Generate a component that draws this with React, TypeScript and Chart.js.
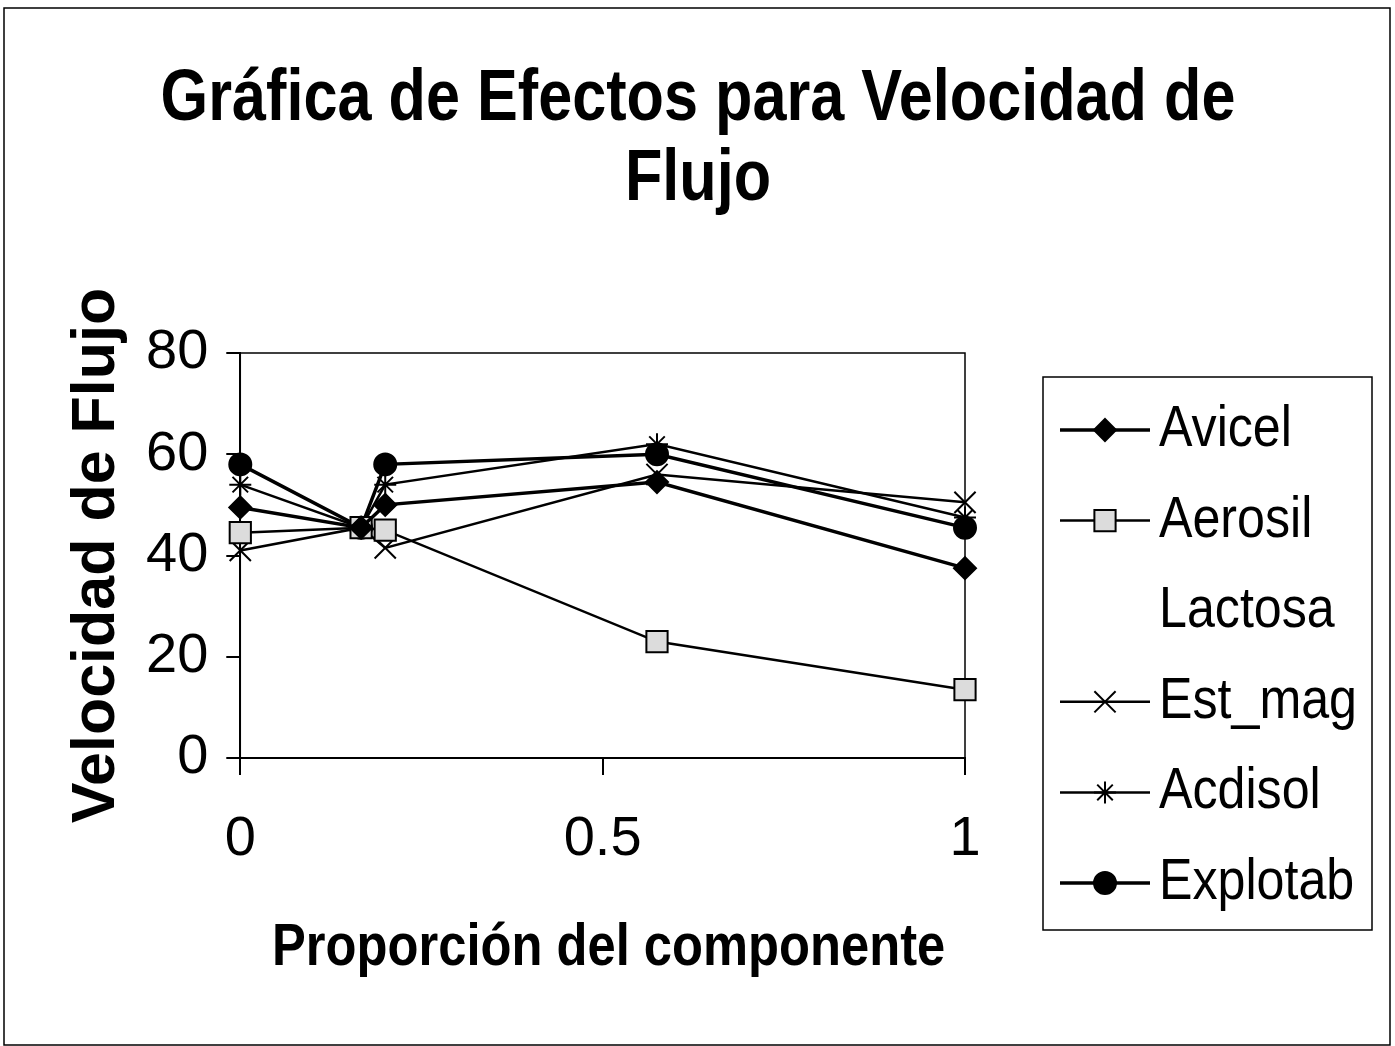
import React, { useEffect, useRef } from 'react';
import { Chart, registerables } from 'chart.js';

Chart.register(...registerables);

// ---------- data ----------
const TITLE_LINES = ['Gráfica de Efectos para Velocidad de', 'Flujo'];
const X_TITLE = 'Proporción del componente';
const Y_TITLE = 'Velocidad de Flujo';

const X_VALUES = [0, 0.1667, 0.2, 0.575, 1];
const AVICEL = [49.5, 45.5, 50, 54.5, 37.5];
const AEROSIL = [44.5, 45.5, 45, 23, 13.5];
const LACTOSA: (number | null)[] = [null, null, null, null, null];
const EST_MAG = [41, 45.5, 41.5, 56, 50.5];
const ACDISOL = [54, 45.5, 54, 62, 47.5];
const EXPLOTAB = [58, 45.5, 58, 60, 45.5];

const X_MIN = 0;
const X_MAX = 1;
const X_STEP = 0.5;
const Y_MIN = 0;
const Y_MAX = 80;
const Y_STEP = 20;

// ---------- styles ----------
const FONT = "'Liberation Sans', Arial, sans-serif";

type Series = {
  label: string;
  values: (number | null)[];
  marker: string;
  radius: number;
  fill: string;
  lineWidth: number;
  visible: boolean;
};

const SERIES: Series[] = [
  { label: 'Avicel', values: AVICEL, marker: 'rectRot', radius: 11, fill: '#000', lineWidth: 3.5, visible: true },
  { label: 'Aerosil', values: AEROSIL, marker: 'rect', radius: 15, fill: '#dcdcdc', lineWidth: 2.5, visible: true },
  { label: 'Lactosa', values: LACTOSA, marker: 'circle', radius: 0, fill: 'transparent', lineWidth: 0, visible: false },
  { label: 'Est_mag', values: EST_MAG, marker: 'crossRot', radius: 15, fill: '#000', lineWidth: 2.5, visible: true },
  { label: 'Acdisol', values: ACDISOL, marker: 'star', radius: 11, fill: '#000', lineWidth: 2.5, visible: true },
  { label: 'Explotab', values: EXPLOTAB, marker: 'circle', radius: 11, fill: '#000', lineWidth: 3.5, visible: true },
];

function drawMarker(ctx: CanvasRenderingContext2D, style: string, x: number, y: number, r: number, fill: string) {
  if (r <= 0) return;
  ctx.beginPath();
  let closed = true;
  const s = r * Math.SQRT1_2;
  switch (style) {
    case 'circle':
      ctx.arc(x, y, r, 0, Math.PI * 2);
      break;
    case 'rect':
      ctx.rect(x - s, y - s, 2 * s, 2 * s);
      break;
    case 'rectRot':
      ctx.moveTo(x, y - r);
      ctx.lineTo(x + r, y);
      ctx.lineTo(x, y + r);
      ctx.lineTo(x - r, y);
      ctx.closePath();
      break;
    case 'crossRot':
      closed = false;
      ctx.moveTo(x - s, y - s);
      ctx.lineTo(x + s, y + s);
      ctx.moveTo(x - s, y + s);
      ctx.lineTo(x + s, y - s);
      break;
    case 'star':
      closed = false;
      ctx.moveTo(x, y - r);
      ctx.lineTo(x, y + r);
      ctx.moveTo(x - r, y);
      ctx.lineTo(x + r, y);
      ctx.moveTo(x - s, y - s);
      ctx.lineTo(x + s, y + s);
      ctx.moveTo(x - s, y + s);
      ctx.lineTo(x + s, y - s);
      break;
  }
  if (closed) {
    ctx.fillStyle = fill;
    ctx.fill();
  }
  ctx.stroke();
}

// text compressed horizontally (the original lettering is condensed)
function squeezedText(
  ctx: CanvasRenderingContext2D,
  text: string,
  x: number,
  y: number,
  k: number,
  align: CanvasTextAlign
) {
  ctx.save();
  ctx.translate(x, y);
  ctx.scale(k, 1);
  ctx.textAlign = align;
  ctx.textBaseline = 'middle';
  ctx.fillText(text, 0, 0);
  ctx.restore();
}

const framePlugin = {
  id: 'frame',
  beforeDraw(chart: any) {
    const { ctx } = chart;
    ctx.save();
    ctx.fillStyle = '#fff';
    ctx.fillRect(0, 0, chart.width, chart.height);
    ctx.restore();
  },
  beforeDatasetsDraw(chart: any) {
    const { ctx, chartArea } = chart;
    ctx.save();
    ctx.strokeStyle = '#000';
    ctx.lineWidth = 1.5;
    ctx.strokeRect(chartArea.left, chartArea.top, chartArea.right - chartArea.left, chartArea.bottom - chartArea.top);
    ctx.restore();
  },
  afterDraw(chart: any) {
    const { ctx, chartArea } = chart;
    ctx.save();
    ctx.fillStyle = '#000';
    ctx.strokeStyle = '#000';

    // outer frame
    ctx.lineWidth = 1.5;
    ctx.strokeRect(4, 8, 1386, 1037);

    // chart title
    ctx.font = `bold 72px ${FONT}`;
    TITLE_LINES.forEach((line, i) => {
      squeezedText(ctx, line, 698, 100 + i * 80, 0.85, 'center');
    });

    // x axis title
    ctx.font = `bold 60px ${FONT}`;
    squeezedText(ctx, X_TITLE, (chartArea.left + chartArea.right) / 2 + 6, 948, 0.845, 'center');

    // legend box
    const left = 1043;
    const top = 377;
    const right = 1372;
    const bottom = 930;
    ctx.lineWidth = 1.5;
    ctx.strokeRect(left, top, right - left, bottom - top);

    ctx.font = `58px ${FONT}`;
    SERIES.forEach((s, i) => {
      const y = top + 53 + i * 90.6;
      if (s.visible) {
        ctx.lineWidth = s.lineWidth;
        ctx.beginPath();
        ctx.moveTo(left + 17, y);
        ctx.lineTo(left + 107, y);
        ctx.stroke();
        ctx.lineWidth = 2;
        drawMarker(ctx, s.marker, left + 62, y, s.radius, s.fill);
      }
      ctx.fillStyle = '#000';
      squeezedText(ctx, s.label, left + 116, y, 0.865, 'left');
    });
    ctx.restore();
  },
};

export default function App() {
  const ref = useRef<HTMLCanvasElement | null>(null);

  useEffect(() => {
    if (!ref.current) return;
    const datasets = SERIES.map((s) => ({
      label: s.label,
      data: X_VALUES.map((x, i) => ({ x, y: s.values[i] })),
      borderColor: '#000',
      borderWidth: s.lineWidth,
      showLine: s.visible,
      pointStyle: s.marker,
      pointRadius: s.visible ? s.radius : 0,
      pointHoverRadius: s.visible ? s.radius : 0,
      pointBackgroundColor: s.fill,
      pointBorderColor: '#000',
      pointBorderWidth: 2,
      tension: 0,
      clip: false as const,
    }));

    const chart = new Chart(ref.current, {
      type: 'line',
      data: { datasets },
      plugins: [framePlugin],
      options: {
        responsive: false,
        animation: false,
        layout: { padding: { left: 63, right: 430, top: 353, bottom: 141 } },
        plugins: {
          legend: { display: false },
          tooltip: { enabled: false },
          title: { display: false },
        },
        scales: {
          x: {
            type: 'linear',
            min: X_MIN,
            max: X_MAX,
            ticks: {
              stepSize: X_STEP,
              color: '#000',
              padding: 31.4,
              font: { family: FONT, size: 56, lineHeight: 1.2 },
              maxRotation: 0,
              callback: (v: any) => String(Number(v)),
            },
            grid: { display: true, drawOnChartArea: false, drawTicks: true, tickLength: 17, color: '#000', lineWidth: 2 },
            border: { display: true, color: '#000', width: 2 },
            title: { display: false },
          },
          y: {
            type: 'linear',
            min: Y_MIN,
            max: Y_MAX,
            ticks: {
              stepSize: Y_STEP,
              color: '#000',
              padding: 18,
              font: { family: FONT, size: 56, lineHeight: 1.2 },
            },
            grid: { display: true, drawOnChartArea: false, drawTicks: true, tickLength: 14, color: '#000', lineWidth: 2 },
            border: { display: true, color: '#000', width: 2 },
            title: {
              display: true,
              text: Y_TITLE,
              color: '#000',
              font: { family: FONT, size: 61, weight: 'bold', lineHeight: 1.0 },
              padding: { top: 4, bottom: 0 },
            },
          },
        },
      },
    });
    return () => chart.destroy();
  }, []);

  return (
    <div style={{ position: 'fixed', left: 0, top: 0, width: 1395, height: 1046 }}>
      <canvas ref={ref} width={1395} height={1046} style={{ display: 'block', width: 1395, height: 1046 }} />
    </div>
  );
}
